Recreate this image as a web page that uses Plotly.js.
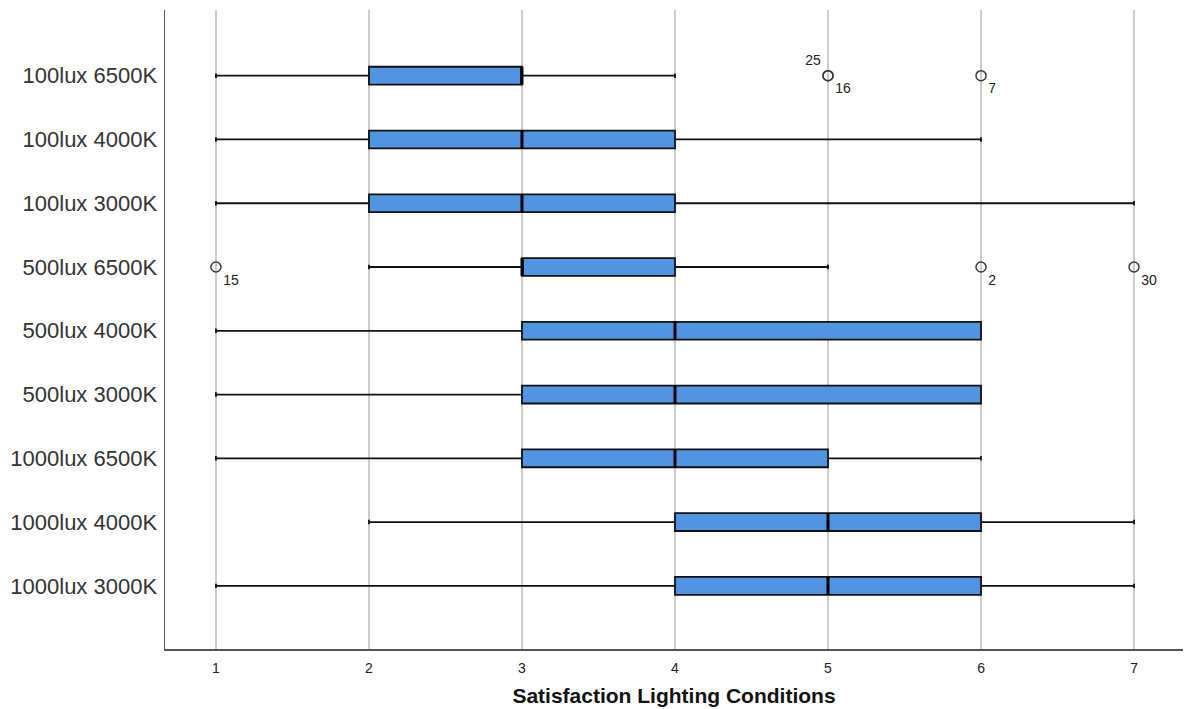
<!DOCTYPE html>
<html>
<head>
<meta charset="utf-8">
<script src="https://cdn.plot.ly/plotly-3.0.1.min.js"></script>
<style>
  html, body { margin: 0; padding: 0; background: #ffffff; }
  #chart { width: 1185px; height: 709px; }
</style>
</head>
<body>
<div id="chart"></div>
<script>
// Lighting conditions, listed top to bottom
const conditions = [
  "100lux 6500K", "100lux 4000K", "100lux 3000K",
  "500lux 6500K", "500lux 4000K", "500lux 3000K",
  "1000lux 6500K", "1000lux 4000K", "1000lux 3000K"
];

// Box statistics per condition (satisfaction score, 1-7)
const lowerWhisker = [1, 1, 1, 2, 1, 1, 1, 2, 1];
const quartile1    = [2, 2, 2, 3, 3, 3, 3, 4, 4];
const medians      = [3, 3, 3, 3, 4, 4, 4, 5, 5];
const quartile3    = [3, 4, 4, 4, 6, 6, 5, 6, 6];
const upperWhisker = [4, 6, 7, 5, 6, 6, 6, 7, 7];

// Outlying cases: condition index, score, case number
const outlierRow   = [0, 0, 0, 3, 3, 3];
const outlierValue = [5, 5, 6, 1, 6, 7];
const outlierCase  = ["25", "16", "7", "15", "2", "30"];

const xTicks = [1, 2, 3, 4, 5, 6, 7];

const FONT = "Liberation Sans, Arial, Helvetica, sans-serif";
const BOX_HALF = 0.14;
const positions = conditions.map((_, i) => i);

const boxTrace = {
  type: "box",
  orientation: "h",
  y: positions,
  lowerfence: lowerWhisker,
  q1: quartile1,
  median: medians,
  q3: quartile3,
  upperfence: upperWhisker,
  boxpoints: false,
  width: BOX_HALF * 2,
  whiskerwidth: 0.25,
  fillcolor: "#5294e2",
  line: { color: "#111111", width: 1.8 },
  hoverinfo: "x",
  showlegend: false
};

// Upper-left label for the first of two coincident cases, lower-right otherwise
const labelPositions = outlierCase.map((c, i) => {
  const dup = outlierCase.findIndex((_, j) => j > i &&
    outlierRow[j] === outlierRow[i] && outlierValue[j] === outlierValue[i]);
  return dup >= 0 ? "top left" : "bottom right";
});

const outlierTrace = {
  type: "scatter",
  mode: "markers+text",
  x: outlierValue,
  y: outlierRow.map(r => positions[r]),
  text: outlierCase,
  textposition: labelPositions,
  textfont: { family: FONT, size: 14, color: "#222" },
  marker: { symbol: "circle-open", size: 10, color: "#3a3a3a", line: { width: 1.5 } },
  cliponaxis: false,
  hoverinfo: "text",
  showlegend: false
};

// Heavier median strokes drawn over each box
const medianShapes = medians.map((m, i) => ({
  type: "line",
  xref: "x", yref: "y",
  x0: m, x1: m,
  y0: positions[i] - BOX_HALF, y1: positions[i] + BOX_HALF,
  line: { color: "#000000", width: 3 }
}));

const layout = {
  width: 1185,
  height: 709,
  margin: { l: 165, r: 2, t: 10, b: 60 },
  paper_bgcolor: "#ffffff",
  plot_bgcolor: "#ffffff",
  font: { family: FONT, color: "#222" },
  shapes: medianShapes,
  xaxis: {
    range: [0.667, 7.32],
    tickvals: xTicks,
    ticktext: xTicks.map(String),
    ticks: "",
    tickfont: { family: FONT, size: 14, color: "#222" },
    ticklabelstandoff: 6,
    showgrid: true,
    gridcolor: "#cccccc",
    gridwidth: 1.5,
    zeroline: false,
    showline: true,
    linecolor: "#555555",
    linewidth: 1.5,
    title: {
      text: "<b>Satisfaction Lighting Conditions</b>",
      font: { family: FONT, size: 21, color: "#111" },
      standoff: 13
    }
  },
  yaxis: {
    range: [8.99, -1.03],
    tickvals: positions,
    ticktext: conditions,
    ticks: "",
    tickfont: { family: FONT, size: 22, color: "#333" },
    ticklabelstandoff: 2,
    showgrid: false,
    zeroline: false,
    showline: true,
    linecolor: "#555555",
    linewidth: 1.5
  }
};

Plotly.newPlot("chart", [boxTrace, outlierTrace], layout, { displayModeBar: false, staticPlot: true });
</script>
</body>
</html>
